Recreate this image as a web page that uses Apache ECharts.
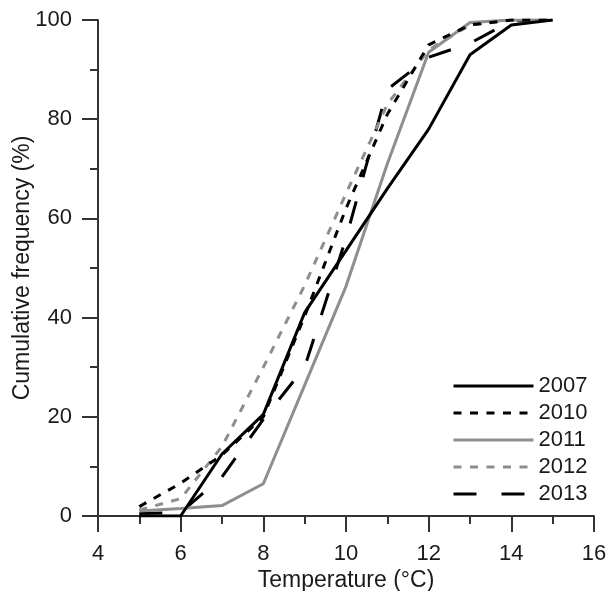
<!DOCTYPE html>
<html>
<head>
<meta charset="utf-8">
<script src="https://cdn.jsdelivr.net/npm/echarts@6/dist/echarts.min.js"></script>
<style>
html,body{margin:0;padding:0;background:#fff;}
#chart{width:608px;height:591px;}
</style>
</head>
<body>
<div id="chart"></div>
<script>
const temperatures = [5, 6, 7, 8, 9, 10, 11, 12, 13, 14, 15];
const y2007 = [0, 0, 12.5, 20.5, 41, 53.5, 66, 78, 93, 99, 100];
const y2010 = [1.9, 6.6, 12.3, 20, 40.3, 62, 81, 95, 99, 100, 100];
const y2011 = [1, 1.5, 2.1, 6.5, 26.4, 46.3, 71, 93.5, 99.5, 100, 100];
const y2012 = [1.2, 3.5, 14, 30, 46.5, 65, 83, 94, 99, 100, 100];
const y2013 = [0.5, 0.7, 7.9, 19.5, 30, 56, 86, 92.5, 95.3, 99.8, 100];
const seriesNames = ['2007', '2010', '2011', '2012', '2013'];
const xTicks = [4, 6, 8, 10, 12, 14, 16];
const yTicks = [0, 20, 40, 60, 80, 100];

const FONT = '"Liberation Sans", Arial, sans-serif';
const styles = [
  {color: '#000000', type: 'solid'},
  {color: '#000000', type: [8, 8.5]},
  {color: '#8e8e8e', type: 'solid'},
  {color: '#8e8e8e', type: [8, 8.5]},
  {color: '#000000', type: [23, 25]}
];
const allY = [y2007, y2010, y2011, y2012, y2013];

const chart = echarts.init(document.getElementById('chart'), null, {renderer: 'canvas'});
const axisCommon = {
  axisLine: {show: true, onZero: false, lineStyle: {color: '#333', width: 2}},
  axisTick: {show: true, inside: false, length: 16, lineStyle: {color: '#333', width: 2}},
  minorTick: {show: true, splitNumber: 2, length: 8, lineStyle: {color: '#333', width: 2}},
  splitLine: {show: false},
  minorSplitLine: {show: false},
  nameLocation: 'middle',
  nameMoveOverlap: false,
  nameTextStyle: {fontFamily: FONT, fontSize: 23, color: '#1a1a1a'}
};
chart.setOption({
  animation: false,
  backgroundColor: '#ffffff',
  grid: {left: 98, right: 14, top: 20, bottom: 75, containLabel: false, outerBoundsMode: 'none'},
  legend: {
    orient: 'vertical',
    left: 447,
    top: 370,
    itemWidth: 80,
    itemHeight: 20,
    itemGap: 5,
    data: seriesNames,
    itemStyle: {opacity: 0, color: 'transparent', borderWidth: 0},
    lineStyle: {width: 3},
    textStyle: {fontFamily: FONT, fontSize: 22, color: '#1a1a1a', lineHeight: 22}
  },
  xAxis: Object.assign({}, axisCommon, {
    type: 'value',
    min: xTicks[0],
    max: xTicks[xTicks.length - 1],
    interval: 2,
    name: 'Temperature (°C)',
    nameGap: 53,
    axisLabel: {fontFamily: FONT, fontSize: 22, color: '#1a1a1a', margin: 27,
      formatter: v => xTicks.includes(v) ? String(v) : ''}
  }),
  yAxis: Object.assign({}, axisCommon, {
    type: 'value',
    min: yTicks[0],
    max: yTicks[yTicks.length - 1],
    interval: 20,
    name: 'Cumulative frequency (%)',
    nameGap: 64,
    axisLabel: {fontFamily: FONT, fontSize: 22, color: '#1a1a1a', margin: 26,
      formatter: v => yTicks.includes(v) ? String(v) : ''}
  }),
  series: seriesNames.map((name, i) => ({
    name: name,
    type: 'line',
    symbol: 'none',
    showSymbol: false,
    data: temperatures.map((t, k) => [t, allY[i][k]]),
    lineStyle: {color: styles[i].color, type: styles[i].type, width: 3},
    itemStyle: {color: styles[i].color},
    z: 10 - i
  }))
});
</script>
</body>
</html>
